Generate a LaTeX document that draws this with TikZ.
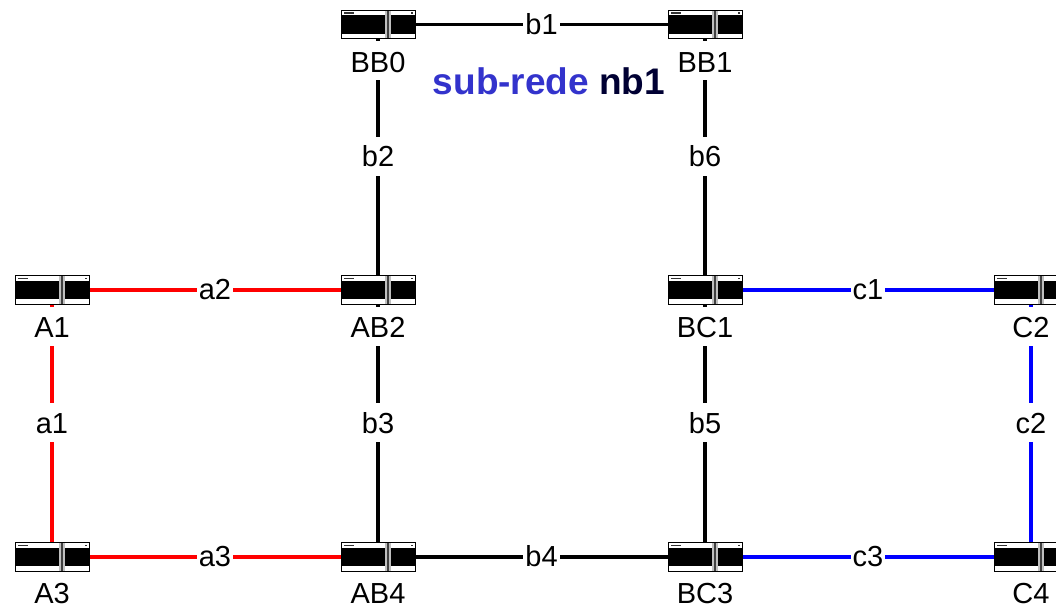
\documentclass[tikz,border=0pt]{standalone}
\usepackage{fontspec}
\setmainfont{Liberation Sans}
\usetikzlibrary{backgrounds}
\definecolor{subblue}{HTML}{3333CC}
\definecolor{nbdark}{HTML}{000033}
\newcommand{\swin}[4]{\fill[#4] ([xshift=#1pt,yshift=-#2pt]path picture bounding box.north west) rectangle ++(#3);}
\tikzset{
  x=1pt,y=-1pt,
  switchbox/.style={draw=black,line width=1pt,fill=white,minimum width=74pt,minimum height=28.5pt,inner sep=0pt,
    path picture={
      \swin{0.5}{5}{43.5pt,-18.3pt}{black}
      \swin{49.5}{5}{24.5pt,-18.3pt}{black}
      \swin{44}{0}{5.5pt,-29pt}{black!25}
      \swin{46}{0}{1.6pt,-29pt}{black!75}
      \swin{3}{2}{10pt,-1.6pt}{black!80}
      \swin{69.5}{2}{2.5pt,-1.6pt}{black!80}
    }},
  devlabel/.style={font=\fontsize{29}{29}\selectfont,fill=white,inner ysep=0pt,inner xsep=2pt,text height=31pt,text depth=8pt,anchor=base},
  devlabellow/.style={devlabel,text depth=0pt},
  linklabel/.style={font=\fontsize{29}{29}\selectfont,fill=white,inner xsep=2pt,inner ysep=0pt,text height=21pt,text depth=0pt,minimum height=39pt,yshift=1pt},
  redlink/.style={draw=red,line width=3.5pt},
  bluelink/.style={draw=blue,line width=3.5pt},
  blacklink/.style={draw=black,line width=3.5pt},
}
\begin{document}
\begin{tikzpicture}
\useasboundingbox (0,0) rectangle (1056,606);
\clip (0,0) rectangle (1056,606);
\node[switchbox] (BB0) at (378,24.5) {};
\node[switchbox] (BB1) at (705,24.5) {};
\node[switchbox] (A1) at (52,290) {};
\node[switchbox] (AB2) at (378,290) {};
\node[switchbox] (BC1) at (705,290) {};
\node[switchbox] (C2) at (1031,290) {};
\node[switchbox] (A3) at (52,557) {};
\node[switchbox] (AB4) at (378,557) {};
\node[switchbox] (BC3) at (705,557) {};
\node[switchbox] (C4) at (1031,557) {};
\node[devlabel] (lBB0) at (378,72) {BB0};
\node[devlabel] (lBB1) at (705,72) {BB1};
\node[devlabel] (lA1) at (52,337.5) {A1};
\node[devlabel] (lAB2) at (378,337.5) {AB2};
\node[devlabel] (lBC1) at (705,337.5) {BC1};
\node[devlabel] (lC2) at (1031,337.5) {C2};
\node[devlabellow] (lA3) at (52,603.5) {A3};
\node[devlabellow] (lAB4) at (378,603.5) {AB4};
\node[devlabellow] (lBC3) at (705,603.5) {BC3};
\node[devlabellow] (lC4) at (1031,603.5) {C4};
\node[font=\fontsize{37}{37}\selectfont\bfseries] (title) at (549,81) {\textcolor{subblue}{sub-rede} \textcolor{nbdark}{nb1}};
\begin{scope}[on background layer]
\draw[blacklink] (BB0.center) -- node[linklabel] (b1) {b1} (BB1.center);
\draw[blacklink] (BB0.center) -- node[linklabel] (b2) {b2} (AB2.center);
\draw[blacklink] (AB2.center) -- node[linklabel] (b3) {b3} (AB4.center);
\draw[blacklink] (AB4.center) -- node[linklabel] (b4) {b4} (BC3.center);
\draw[blacklink] (BC3.center) -- node[linklabel] (b5) {b5} (BC1.center);
\draw[blacklink] (BC1.center) -- node[linklabel] (b6) {b6} (BB1.center);
\draw[redlink] (A1.center) -- node[linklabel] (a1) {a1} (A3.center);
\draw[redlink] (A1.center) -- node[linklabel] (a2) {a2} (AB2.center);
\draw[redlink] (A3.center) -- node[linklabel] (a3) {a3} (AB4.center);
\draw[bluelink] (BC1.center) -- node[linklabel] (c1) {c1} (C2.center);
\draw[bluelink] (C2.center) -- node[linklabel] (c2) {c2} (C4.center);
\draw[bluelink] (BC3.center) -- node[linklabel] (c3) {c3} (C4.center);
\end{scope}
\end{tikzpicture}
\end{document}
